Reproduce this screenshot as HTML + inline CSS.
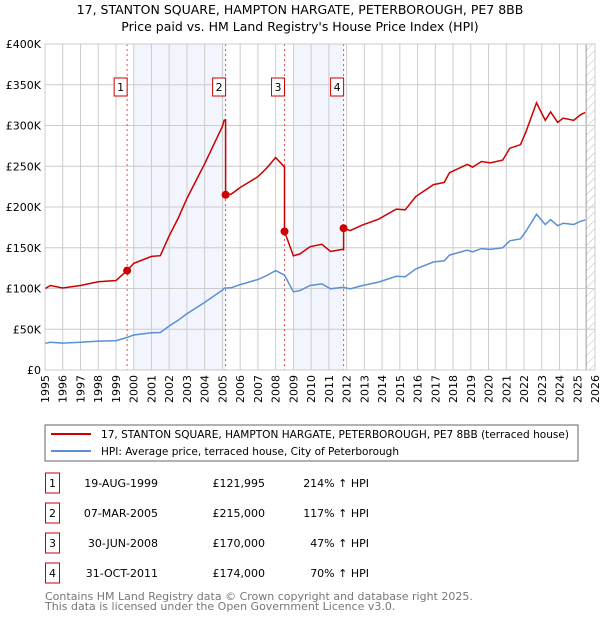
<!DOCTYPE html>
<html><head><meta charset="utf-8"><style>
body{margin:0;background:#fff;font-family:"DejaVu Sans","Liberation Sans",sans-serif;}
svg text{font-family:"DejaVu Sans","Liberation Sans",sans-serif;}
</style></head><body>
<svg id="c" width="600" height="620" viewBox="0 0 600 620">
<defs><pattern id="hatch" width="6" height="6" patternUnits="userSpaceOnUse" patternTransform="rotate(45)"><line x1="0" y1="0" x2="0" y2="6" stroke="#bbb" stroke-width="1"/></pattern></defs>
<text x="300" y="14" text-anchor="middle" font-size="12.5" fill="#000">17, STANTON SQUARE, HAMPTON HARGATE, PETERBOROUGH, PE7 8BB</text>
<text x="300" y="31" text-anchor="middle" font-size="12.5" fill="#000">Price paid vs. HM Land Registry's House Price Index (HPI)</text>
<g id="plot"></g>
<rect x="45" y="425" width="533" height="36" fill="#fff" stroke="#666"/>
<line x1="51" y1="434" x2="91" y2="434" stroke="#cc0000" stroke-width="2"/>
<text x="101" y="438" font-size="11" textLength="468" lengthAdjust="spacingAndGlyphs">17, STANTON SQUARE, HAMPTON HARGATE, PETERBOROUGH, PE7 8BB (terraced house)</text>
<line x1="51" y1="451" x2="91" y2="451" stroke="#5b8fd4" stroke-width="2"/>
<text x="101" y="455" font-size="11" textLength="298" lengthAdjust="spacingAndGlyphs">HPI: Average price, terraced house, City of Peterborough</text>
<g id="table" font-size="11"></g>
<text x="45" y="600" font-size="11" fill="#777">Contains HM Land Registry data © Crown copyright and database right 2025.</text>
<text x="45" y="610" font-size="11" fill="#777">This data is licensed under the Open Government Licence v3.0.</text>
</svg>
<script>
const hpiYears=[1995,1995.3,1996,1997,1998,1999,1999.63,2000,2001,2001.5,2002,2002.5,2003,2004,2005,2005.1,2005.5,2006,2007,2007.5,2008,2008.5,2009,2009.37,2009.94,2010.6,2011.1,2011.8,2012.2,2012.9,2013.8,2014.8,2015.3,2015.9,2016.9,2017.5,2017.8,2018.8,2019.1,2019.6,2020.1,2020.8,2021.2,2021.8,2022.1,2022.7,2023.2,2023.5,2023.9,2024.2,2024.8,2025.2,2025.45];
const hpiValues=[32.7,34,33,34,35.5,36,40,42.9,45.7,46,54,61,69,83,98,100.5,101,104.8,111,116,122,116.5,96,97.6,103.7,105.7,99.6,101.5,99.6,103.7,107.8,115,114.5,124,132.5,134,141,147,145,149,148,150,158.5,161,170,191,178.5,184.5,177,180,178.5,182.6,184];
const saleLabels=["1","2","3","4"];
const saleYears=[1999.63,2005.18,2008.5,2011.83];
const salePrices=[121.995,215,170,174];
const saleDates=["19-AUG-1999","07-MAR-2005","30-JUN-2008","31-OCT-2011"];
const salePriceText=["£121,995","£215,000","£170,000","£174,000"];
const salePctText=["214% ↑ HPI","117% ↑ HPI","47% ↑ HPI","70% ↑ HPI"];
const yTicks=[0,50,100,150,200,250,300,350,400];
const yTickLabels=["£0","£50K","£100K","£150K","£200K","£250K","£300K","£350K","£400K"];
const shadeRanges=[[2000,2005.18],[2009,2011.83]];

const X0=45,X1=595,Y0=370,Y1=44,xmin=1995,xmax=2026,ymax=400;
const xs=v=>X0+(v-xmin)/(xmax-xmin)*(X1-X0);
const ys=v=>Y0-v/ymax*(Y0-Y1);
const NS="http://www.w3.org/2000/svg";
const plot=document.getElementById('plot');
function mk(t,a,p){const e=document.createElementNS(NS,t);for(const k in a)e.setAttribute(k,a[k]);(p||plot).appendChild(e);return e;}
function hpiAt(y){for(let i=1;i<hpiYears.length;i++){if(y<=hpiYears[i]){const t=(y-hpiYears[i-1])/(hpiYears[i]-hpiYears[i-1]);return hpiValues[i-1]+t*(hpiValues[i]-hpiValues[i-1]);}}return hpiValues[hpiValues.length-1];}

let r=mk('rect',{x:X0,y:Y1,width:X1-X0,height:Y0-Y1,fill:'#fff'});


shadeRanges.forEach(s=>{const e=mk('rect',{x:xs(s[0]),y:Y1,width:xs(s[1])-xs(s[0]),height:Y0-Y1,fill:'#f2f5fd'});

});
const h=mk('rect',{x:xs(2025.5),y:Y1,width:X1-xs(2025.5),height:Y0-Y1,fill:'url(#hatch)'});


mk('line',{x1:xs(2025.5),y1:Y1,x2:xs(2025.5),y2:Y0,stroke:'#999'});
for(let y=xmin;y<=xmax;y++){
 const g=mk('line',{x1:xs(y),y1:Y1,x2:xs(y),y2:Y0,stroke:'#ccc','stroke-width':1});
 
 
 const t=mk('text',{x:0,y:0,'font-size':11,'text-anchor':'end',transform:`translate(${xs(y)+4},${Y0+5}) rotate(-90)`});
 t.textContent=y;
 
 
}
yTicks.forEach((v,i)=>{
 const g=mk('line',{x1:X0,y1:ys(v),x2:X1,y2:ys(v),stroke:'#ccc'});
 
 
 const t=mk('text',{x:X0-4,y:ys(v)+4,'font-size':11,'text-anchor':'end'});
 t.textContent=yTickLabels[i];
 
 
});
saleYears.forEach((sy,i)=>{
 const l=mk('line',{x1:xs(sy),y1:Y1,x2:xs(sy),y2:Y0,stroke:'#e05050','stroke-dasharray':'2,3','stroke-width':1});
 
 
 const b=mk('rect',{x:xs(sy)-13,y:78,width:13,height:18,fill:'#fff',stroke:'#cc0000'});
 
 
 const t=mk('text',{x:xs(sy)-6.5,y:91,'font-size':11,'text-anchor':'middle'});
 t.textContent=saleLabels[i];
 
 
});
const bp=hpiYears.map((y,i)=>xs(y).toFixed(1)+','+ys(hpiValues[i]).toFixed(1)).join(' ');
const bl=mk('polyline',{points:bp,fill:'none',stroke:'#5b8fd4','stroke-width':1.5});


const ratios=saleYears.map((s,i)=>salePrices[i]/hpiAt(s));
function ratioAt(y){let k=0;for(let i=0;i<saleYears.length;i++)if(y>=saleYears[i])k=i;return ratios[k];}
let pts=[];
hpiYears.forEach((y,i)=>pts.push([y,hpiValues[i]*ratioAt(y)]));
saleYears.forEach((s,i)=>{if(i>0)pts.push([s-0.001,hpiAt(s)*ratios[i-1]]);pts.push([s,salePrices[i]]);});
pts.sort((a,b)=>a[0]-b[0]);
const rl=mk('polyline',{points:pts.map(p=>xs(p[0]).toFixed(1)+','+ys(p[1]).toFixed(1)).join(' '),fill:'none',stroke:'#cc0000','stroke-width':1.5});


saleYears.forEach((s,i)=>{const c=mk('circle',{cx:xs(s),cy:ys(salePrices[i]),r:4,fill:'#cc0000'});

});
mk('rect',{x:X0,y:Y1,width:X1-X0,height:Y0-Y1,fill:'none',stroke:'#ccc'});
const tb=document.getElementById('table');
saleLabels.forEach((lab,i)=>{
 const cy=483+i*30;
 const b=mk('rect',{x:45.5,y:cy-10,width:14,height:20,fill:'#fff',stroke:'#cc0000'},tb);
 
 
 const cells=[[52.5,lab,'middle'],[158,saleDates[i],'end'],[265,salePriceText[i],'end'],[369,salePctText[i],'end']];
 cells.forEach(c=>{const t=mk('text',{x:c[0],y:cy+4,'text-anchor':c[2]},tb);t.textContent=c[1];
 
 });
});
</script>
</body></html>
